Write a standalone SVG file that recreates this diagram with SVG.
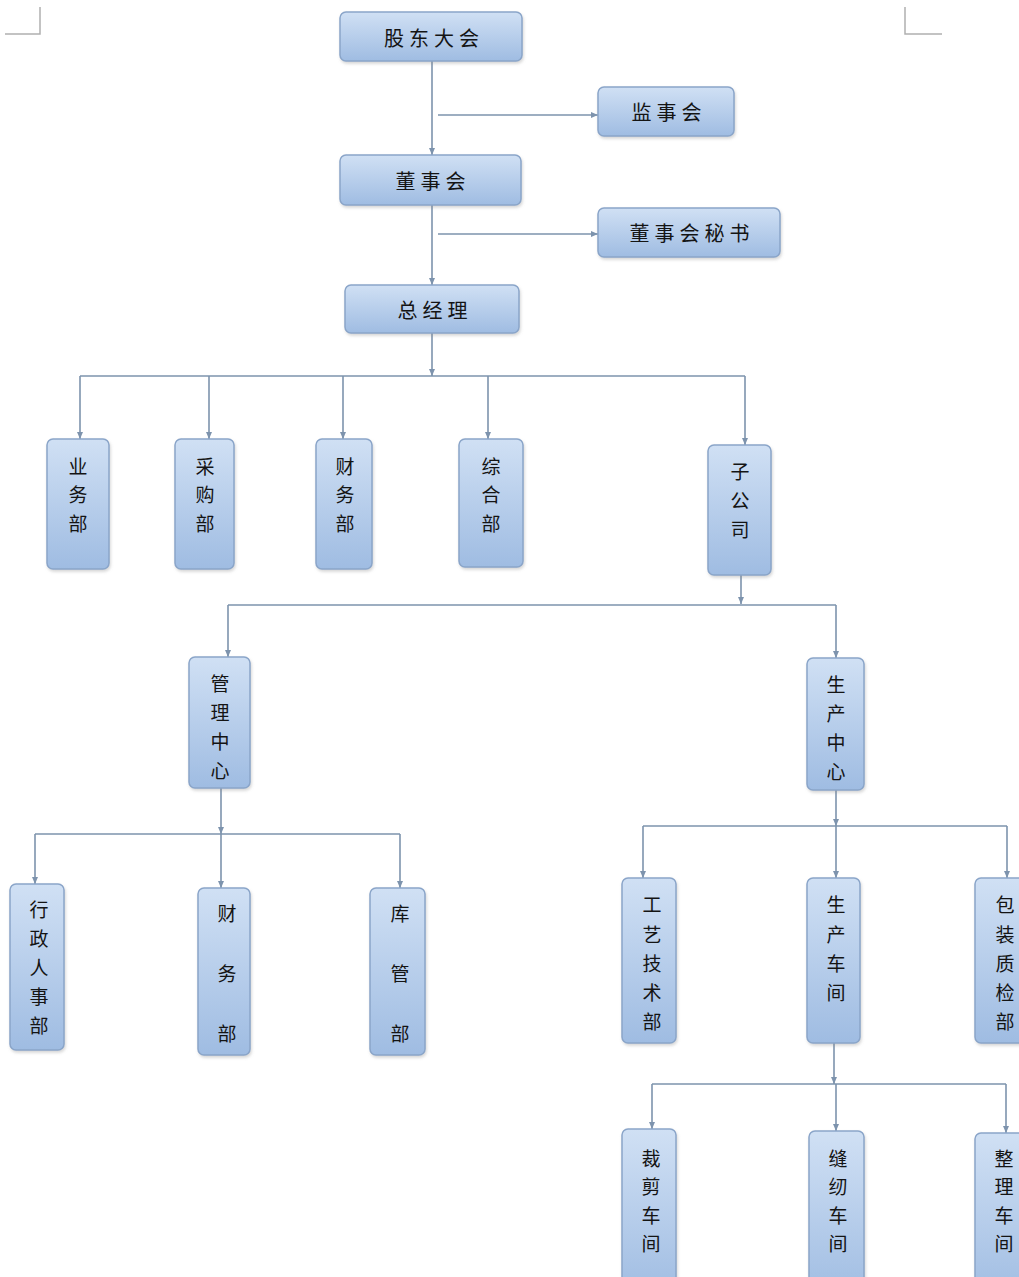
<svg xmlns="http://www.w3.org/2000/svg" width="1019" height="1277" viewBox="0 0 1019 1277">
<defs>
<linearGradient id="g" x1="0" y1="0" x2="0" y2="1">
<stop offset="0" stop-color="#d0e0f4"/>
<stop offset="1" stop-color="#9fbce2"/>
</linearGradient>
<filter id="sh" x="-20%" y="-20%" width="140%" height="140%">
<feDropShadow dx="1" dy="2" stdDeviation="1.5" flood-color="#8a8a8a" flood-opacity="0.35"/>
</filter>
<marker id="arr" markerWidth="8" markerHeight="8" refX="7" refY="4" orient="auto" markerUnits="userSpaceOnUse">
<path d="M0,1 L7,4 L0,7 z" fill="#7d93ad"/>
</marker>
<style>
.box{fill:url(#g);stroke:#8aa5c9;stroke-width:1.5;filter:url(#sh)}
.t{font-family:"Noto Sans CJK SC","Noto Sans",sans-serif;font-size:19px;fill:#141414;text-anchor:middle;dominant-baseline:central}
.h{font-size:20px;letter-spacing:5px}
.c{fill:none;stroke:#7d93ad;stroke-width:1.6}
.a{marker-end:url(#arr)}
.corner{fill:none;stroke:#b0b0b0;stroke-width:1.5}
</style>
</defs>
<rect width="1019" height="1277" fill="#ffffff"/>
<path class="corner" d="M40,7 V34 H5"/>
<path class="corner" d="M905,7 V34 H942"/>

<g id="connectors">
<path class="c a" d="M432,61 V155"/>
<path class="c a" d="M438,115 H598"/>
<path class="c a" d="M432,205 V285"/>
<path class="c a" d="M438,234 H598"/>
<path class="c a" d="M432,333 V376"/>
<path class="c" d="M80,376 H745"/>
<path class="c a" d="M80,376 V439"/>
<path class="c a" d="M209,376 V439"/>
<path class="c a" d="M343,376 V439"/>
<path class="c a" d="M488,376 V439"/>
<path class="c a" d="M745,376 V445"/>
<path class="c a" d="M741,575 V604"/>
<path class="c" d="M228,605 H836"/>
<path class="c a" d="M228,605 V657"/>
<path class="c a" d="M836,605 V658"/>
<path class="c a" d="M221,788 V834"/>
<path class="c" d="M35,834 H400"/>
<path class="c a" d="M35,834 V884"/>
<path class="c a" d="M221,834 V888"/>
<path class="c a" d="M400,834 V888"/>
<path class="c a" d="M836,790 V826"/>
<path class="c" d="M643,826 H1007"/>
<path class="c a" d="M643,826 V878"/>
<path class="c a" d="M836,826 V878"/>
<path class="c a" d="M1007,826 V878"/>
<path class="c a" d="M834,1043 V1084"/>
<path class="c" d="M652,1084 H1006"/>
<path class="c a" d="M652,1084 V1129"/>
<path class="c a" d="M836,1084 V1131"/>
<path class="c a" d="M1006,1084 V1133"/>
</g>

<g id="n-gudong"><rect class="box" x="340" y="12" width="182" height="49" rx="6"/><text class="t h" x="434" y="37">股东大会</text></g>
<g id="n-jianshi"><rect class="box" x="598" y="87" width="136" height="49" rx="6"/><text class="t h" x="669" y="111">监事会</text></g>
<g id="n-dongshi"><rect class="box" x="340" y="155" width="181" height="50" rx="6"/><text class="t h" x="433" y="180">董事会</text></g>
<g id="n-mishu"><rect class="box" x="598" y="208" width="182" height="49" rx="6"/><text class="t h" x="692" y="232">董事会秘书</text></g>
<g id="n-zongjingli"><rect class="box" x="345" y="285" width="174" height="48" rx="6"/><text class="t h" x="435" y="309">总经理</text></g>

<g id="n-yewu"><rect class="box" x="47" y="439" width="62" height="130" rx="6"/><text class="t"><tspan x="78" y="465">业</tspan><tspan x="78" y="493">务</tspan><tspan x="78" y="522">部</tspan></text></g>
<g id="n-caigou"><rect class="box" x="175" y="439" width="59" height="130" rx="6"/><text class="t"><tspan x="205" y="465">采</tspan><tspan x="205" y="493">购</tspan><tspan x="205" y="522">部</tspan></text></g>
<g id="n-caiwu"><rect class="box" x="316" y="439" width="56" height="130" rx="6"/><text class="t"><tspan x="345" y="465">财</tspan><tspan x="345" y="493">务</tspan><tspan x="345" y="522">部</tspan></text></g>
<g id="n-zonghe"><rect class="box" x="459" y="439" width="64" height="128" rx="6"/><text class="t"><tspan x="491" y="465">综</tspan><tspan x="491" y="493">合</tspan><tspan x="491" y="522">部</tspan></text></g>
<g id="n-zigongsi"><rect class="box" x="708" y="445" width="63" height="130" rx="6"/><text class="t"><tspan x="740" y="470">子</tspan><tspan x="740" y="499">公</tspan><tspan x="740" y="528">司</tspan></text></g>

<g id="n-guanli"><rect class="box" x="189" y="657" width="61" height="131" rx="6"/><text class="t"><tspan x="220" y="682">管</tspan><tspan x="220" y="711">理</tspan><tspan x="220" y="740">中</tspan><tspan x="220" y="769">心</tspan></text></g>
<g id="n-shengchan"><rect class="box" x="807" y="658" width="57" height="132" rx="6"/><text class="t"><tspan x="836" y="683">生</tspan><tspan x="836" y="712">产</tspan><tspan x="836" y="741">中</tspan><tspan x="836" y="770">心</tspan></text></g>

<g id="n-xingzheng"><rect class="box" x="10" y="884" width="54" height="166" rx="6"/><text class="t"><tspan x="39" y="908">行</tspan><tspan x="39" y="937">政</tspan><tspan x="39" y="966">人</tspan><tspan x="39" y="995">事</tspan><tspan x="39" y="1024">部</tspan></text></g>
<g id="n-caiwu2"><rect class="box" x="198" y="888" width="52" height="167" rx="6"/><text class="t"><tspan x="227" y="912">财</tspan><tspan x="227" y="972">务</tspan><tspan x="227" y="1032">部</tspan></text></g>
<g id="n-kuguan"><rect class="box" x="370" y="888" width="55" height="167" rx="6"/><text class="t"><tspan x="400" y="912">库</tspan><tspan x="400" y="972">管</tspan><tspan x="400" y="1032">部</tspan></text></g>

<g id="n-gongyi"><rect class="box" x="622" y="878" width="54" height="165" rx="6"/><text class="t"><tspan x="652" y="903">工</tspan><tspan x="652" y="933">艺</tspan><tspan x="652" y="962">技</tspan><tspan x="652" y="991">术</tspan><tspan x="652" y="1020">部</tspan></text></g>
<g id="n-chejian"><rect class="box" x="807" y="878" width="53" height="165" rx="6"/><text class="t"><tspan x="836" y="903">生</tspan><tspan x="836" y="933">产</tspan><tspan x="836" y="962">车</tspan><tspan x="836" y="991">间</tspan></text></g>
<g id="n-baozhuang"><rect class="box" x="975" y="878" width="60" height="165" rx="6"/><text class="t"><tspan x="1005" y="903">包</tspan><tspan x="1005" y="933">装</tspan><tspan x="1005" y="962">质</tspan><tspan x="1005" y="991">检</tspan><tspan x="1005" y="1020">部</tspan></text></g>

<g id="n-caijian"><rect class="box" x="622" y="1129" width="54" height="170" rx="6"/><text class="t"><tspan x="651" y="1157">裁</tspan><tspan x="651" y="1185">剪</tspan><tspan x="651" y="1214">车</tspan><tspan x="651" y="1242">间</tspan></text></g>
<g id="n-fengren"><rect class="box" x="809" y="1131" width="55" height="170" rx="6"/><text class="t"><tspan x="838" y="1157">缝</tspan><tspan x="838" y="1185">纫</tspan><tspan x="838" y="1214">车</tspan><tspan x="838" y="1242">间</tspan></text></g>
<g id="n-zhengli"><rect class="box" x="975" y="1133" width="60" height="170" rx="6"/><text class="t"><tspan x="1004" y="1157">整</tspan><tspan x="1004" y="1185">理</tspan><tspan x="1004" y="1214">车</tspan><tspan x="1004" y="1242">间</tspan></text></g>
</svg>
